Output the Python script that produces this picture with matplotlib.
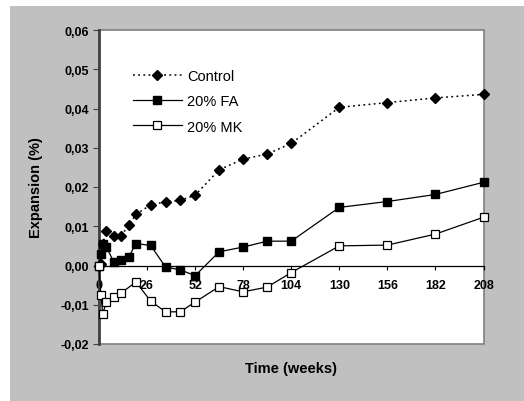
import matplotlib
matplotlib.use("Agg")
import matplotlib.pyplot as plt
from matplotlib.patches import Rectangle

plt.rcParams['font.family'] = ['Liberation Sans', 'DejaVu Sans']

# data
weeks_ctrl = [0, 1, 2, 4, 8, 12, 16, 20, 28, 36, 44, 52, 65, 78, 91, 104, 130, 156, 182, 208]
control = [0.0, 0.0005, 0.0056, 0.0088, 0.0076, 0.0076, 0.0102, 0.0130, 0.0155, 0.0162,
           0.0166, 0.0179, 0.0244, 0.0271, 0.0284, 0.0311, 0.0403, 0.0415, 0.0427, 0.0436]
weeks_fa = [0, 1, 2, 4, 8, 12, 16, 20, 28, 36, 44, 52, 65, 78, 91, 104, 130, 156, 182, 208]
fa20 = [0.0, 0.0029, 0.0056, 0.0047, 0.0009, 0.0013, 0.0021, 0.0056, 0.0051, -0.0004,
        -0.0011, -0.0026, 0.0035, 0.0047, 0.0062, 0.0062, 0.0148, 0.0163, 0.0181, 0.0212]
weeks_mk = [0, 1, 2, 4, 8, 12, 20, 28, 36, 44, 52, 65, 78, 91, 104, 130, 156, 182, 208]
mk20 = [0.0, -0.0074, -0.0123, -0.0093, -0.0079, -0.0070, -0.0042, -0.0091, -0.0118,
        -0.0118, -0.0093, -0.0054, -0.0067, -0.0055, -0.0018, 0.0050, 0.0052, 0.0080, 0.0123]

xticks = [0, 26, 52, 78, 104, 130, 156, 182, 208]
yticks = [-0.02, -0.01, 0.0, 0.01, 0.02, 0.03, 0.04, 0.05, 0.06]
ytick_labels = ['-0,02', '-0,01', '0,00', '0,01', '0,02', '0,03', '0,04', '0,05', '0,06']

fig = plt.figure(figsize=(5.24, 4.02), dpi=100)
fig.patch.set_facecolor('white')
# grey chart area
fig.patches.append(Rectangle((10 / 524, 0), 1, 1 - 7 / 402, transform=fig.transFigure,
                             facecolor='#c0c0c0', edgecolor='none', zorder=-10))

ax = fig.add_axes([99 / 524, 1 - 345 / 402, (483.5 - 99) / 524, (345 - 31) / 402])
ax.set_facecolor('white')

ax.plot(weeks_ctrl, control, color='black', linestyle=(0, (1.2, 2.2)), linewidth=1.1,
        marker='D', markersize=5.5, markerfacecolor='black', markeredgecolor='black',
        label='Control', clip_on=False, zorder=4)
ax.plot(weeks_fa, fa20, color='black', linestyle='-', linewidth=0.9,
        marker='s', markersize=6, markerfacecolor='black', markeredgecolor='black',
        label='20% FA', clip_on=False, zorder=4)
ax.plot(weeks_mk, mk20, color='black', linestyle='-', linewidth=0.9,
        marker='s', markersize=6, markerfacecolor='white', markeredgecolor='black',
        markeredgewidth=0.9, label='20% MK', clip_on=False, zorder=5)

ax.set_xlim(0, 208)
ax.set_ylim(-0.02, 0.06)

# x axis crosses at zero
ax.spines['bottom'].set_position(('data', 0))
ax.spines['bottom'].set_color('black')
ax.spines['bottom'].set_linewidth(0.9)
ax.spines['left'].set_color('#404040')
ax.spines['left'].set_linewidth(2)
ax.spines['top'].set_visible(False)
ax.spines['right'].set_visible(False)
ax.add_patch(Rectangle((0, 0), 1, 1, transform=ax.transAxes, fill=False,
                       edgecolor='#808080', linewidth=1.2, zorder=1, clip_on=False))

ax.set_xticks(xticks)
ax.set_xticklabels([str(t) for t in xticks], fontweight='bold', fontsize=9)
ax.tick_params(axis='x', direction='out', length=3, width=0.8, pad=7)
ax.set_yticks(yticks)
ax.set_yticklabels(ytick_labels, fontweight='bold', fontsize=9)
ax.tick_params(axis='y', direction='out', length=4, width=0.8, color='#404040', pad=3)

ax.set_xlabel('Time (weeks)', fontweight='bold', fontsize=10.5)
ax.xaxis.set_label_coords(0.5, -0.055)
ax.set_ylabel('Expansion (%)', fontweight='bold', fontsize=10.5, labelpad=13)

ax.legend(loc='upper left', bbox_to_anchor=(0.073, 0.895), frameon=False, fontsize=10.5,
          handlelength=3.36, handletextpad=0.35, labelspacing=0.78, borderaxespad=0,
          markerscale=0.85)

fig.savefig('out.png', dpi=100)
